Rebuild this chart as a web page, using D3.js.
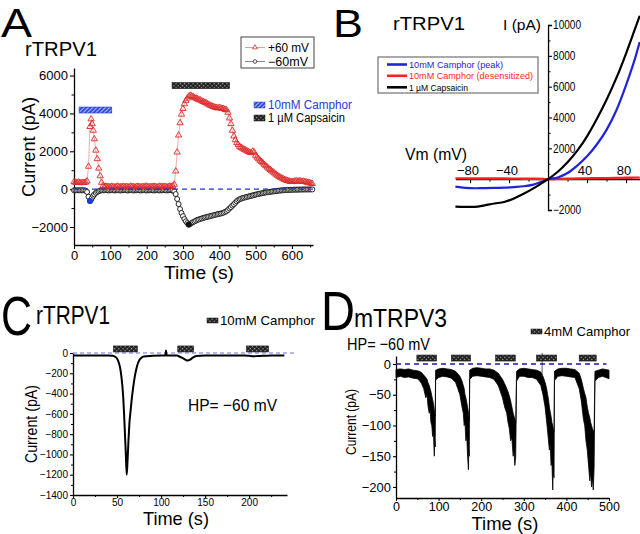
<!DOCTYPE html>
<html><head><meta charset="utf-8">
<script src="https://cdn.jsdelivr.net/npm/d3@7"></script>
<style>body{margin:0;background:#fff}svg{display:block;font-family:"Liberation Sans",Arial,Helvetica,sans-serif}</style>
</head><body><svg id="c" width="640" height="534"></svg>
<script>
// ---------------- DATA ----------------
// Panel A: time course (s), current at +60 mV and -60 mV (pA)
const timeA = [0,4,8,12,16,20,24,28,32,36,
 40,44,47,50,53,56,60,64,68,72,76,80,84,
 88,92,96,100,104,108,112,116,120,124,128,132,136,140,144,148,152,156,160,164,168,172,176,180,184,188,192,196,200,204,208,212,216,220,224,228,232,236,240,244,248,252,256,260,264,268,272,
 276,280,284,288,292,296,300,304,308,312,316,320,324,328,332,336,340,344,348,352,356,360,364,368,372,376,380,384,388,392,396,400,404,408,412,416,420,424,428,432,436,440,444,448,452,456,460,464,468,472,476,480,484,488,492,496,500,504,508,512,516,520,524,528,532,536,540,544,548,552,556,560,564,568,572,576,580,584,588,592,596,600,604,608,612,616,620,624,628,632,636,640,644,648,652,656];
const plusA = [380,360,340,370,340,330,350,340,360,420,
 1200,3300,3700,3450,3100,2650,2050,1600,1100,700,350,180,130,
 150,120,130,110,140,120,100,130,150,120,110,130,140,120,130,110,120,150,130,120,100,130,140,120,110,130,120,140,150,120,110,130,120,140,130,110,120,150,130,120,140,130,110,120,150,140,160,
 250,950,1950,2850,3500,3950,4250,4500,4680,4800,4900,4950,4920,4880,4820,4800,4760,4720,4700,4650,4620,4580,4550,4500,4450,4420,4380,4350,4320,4300,4280,4300,4280,4250,4250,4200,4180,4050,3750,3450,3100,2800,2600,2450,2350,2250,2200,2150,2100,2060,2020,1980,1940,1920,2000,1950,1780,1680,1600,1520,1450,1380,1300,1230,1160,1090,1030,960,900,840,780,720,670,620,580,540,500,470,440,420,400,390,400,420,430,410,430,420,400,410,390,370,350,330,310,290];
const minusA = [-60,-60,-60,-60,-60,-60,-60,-60,-80,-150,
 -400,-620,-560,-450,-350,-280,-200,-150,-110,-80,-60,-60,-60,
 -50,-60,-70,-60,-50,-60,-70,-60,-50,-60,-70,-60,-60,-50,-60,-70,-60,-50,-60,-70,-60,-60,-50,-60,-70,-60,-50,-60,-70,-60,-60,-50,-60,-70,-60,-50,-60,-70,-60,-60,-50,-60,-70,-60,-50,-60,-70,
 -110,-260,-520,-790,-1050,-1260,-1430,-1580,-1700,-1790,-1870,-1840,-1780,-1740,-1700,-1660,-1620,-1600,-1570,-1550,-1520,-1500,-1480,-1460,-1440,-1420,-1400,-1380,-1360,-1340,-1320,-1300,-1290,-1270,-1240,-1200,-1160,-1100,-1020,-950,-870,-800,-720,-640,-580,-530,-500,-470,-450,-430,-410,-390,-370,-350,-330,-310,-290,-270,-250,-235,-220,-205,-190,-175,-160,-150,-140,-130,-120,-110,-100,-90,-80,-72,-65,-58,-52,-46,-42,-38,-35,-32,-30,-28,-26,-24,-22,-20,-20,-18,-18,-16,-16,-15,-15,-14];
const camphorPeakA = [44, -620];
const capsaicinPeakA = [316, -1870];
const camphorBarA = [14, 104];
const capsaicinBarA = [270, 428];
const xTicksA = [0,100,200,300,400,500,600];
const yTicksA = [-2000,0,2000,4000,6000];

// Panel B: I-V relations
const vmB = [-95,-85,-75,-65,-55,-45,-35,-25,-15,-5,0,10,20,30,40,50,60,70,80,90,94];
const capsaicinB = [-1780,-1800,-1800,-1700,-1580,-1480,-1250,-950,-600,-200,0,480,1100,1850,2780,3900,5150,6550,8150,9900,10600];
const camphorPeakB = [-480,-560,-590,-580,-570,-550,-510,-460,-350,-130,0,110,400,880,1480,2250,3200,4450,6100,8000,8900];
const camphorDesB = [50,50,45,45,40,40,35,30,25,10,0,20,30,40,50,60,70,80,90,100,100];
const xTicksB = [-80,-40,40,80];
const yTicksB = [-2000,2000,4000,6000,8000,10000];

// Panel C: rTRPV1 trace at -60 mV
const timeC = [0,10,20,30,40,45,48,50,52,53.5,55,57,58,59,60,61,62,63,64,65.5,67,68.5,70,71.6,73,75.4,78,80,90,100,105,105.6,106.2,110,118,120,124,127,130,133,136,140,150,160,180,195,200,205,210,215,220,225,240];
const currentC = [-25,-25,-25,-25,-25,-28,-38,-55,-95,-145,-235,-430,-600,-800,-1000,-1200,-1050,-860,-700,-560,-430,-330,-240,-170,-120,-70,-45,-35,-28,-25,-25,25,-25,-25,-25,-32,-48,-62,-75,-66,-46,-30,-25,-25,-25,-25,-28,-32,-30,-28,-26,-25,-25];
const barsC = [[46,73],[119,137],[197,222]];
const xTicksC = [0,50,100,150,200];
const yTicksC = [0,-200,-400,-600,-800,-1000,-1200,-1400];

// Panel D: mTRPV3 trace envelope (upper / lower edge of the noisy current)
const timeD = [0,10,20,30,40,50,55,60,65,70,73,75,78,80,82,84,86,88,89,90,91,92,93,
 100,110,120,130,140,145,150,155,158,160,162,164,166,168,170,171,172,173,
 180,190,200,210,220,230,240,250,255,260,263,266,269,272,275,277,279,281,283,
 290,300,310,320,330,340,345,350,353,356,358,360,362,364,366,368,369,371,372,
 380,390,400,410,420,430,435,440,443,446,449,452,455,457,459,461,463,465,467,
 475,485,500];
const upperD = [-9,-8,-9,-8,-10,-11,-12,-14,-18,-22,-25,-30,-35,-40,-45,-52,-58,-65,-70,-75,-80,-85,-10,
 -8,-7,-8,-9,-12,-16,-20,-28,-35,-40,-50,-55,-62,-70,-78,-85,-92,-10,
 -7,-6,-7,-8,-8,-10,-15,-25,-32,-40,-45,-52,-60,-70,-80,-85,-90,-95,-12,
 -8,-7,-8,-9,-10,-13,-20,-30,-38,-50,-58,-70,-78,-85,-95,-100,-105,-110,-12,
 -8,-7,-7,-8,-9,-15,-25,-40,-48,-55,-70,-80,-88,-95,-100,-105,-108,-110,-12,
 -10,-8,-10];
const lowerD = [-22,-20,-22,-21,-23,-24,-27,-32,-40,-55,-50,-68,-80,-75,-95,-100,-118,-110,-135,-150,-125,-135,-26,
 -22,-20,-21,-23,-30,-40,-50,-70,-80,-100,-95,-125,-115,-150,-172,-140,-150,-25,
 -20,-19,-20,-21,-22,-25,-35,-55,-70,-80,-95,-105,-125,-120,-150,-140,-165,-150,-28,
 -20,-20,-22,-22,-25,-35,-50,-70,-90,-110,-125,-140,-130,-165,-160,-205,-175,-185,-27,
 -20,-19,-20,-21,-22,-40,-60,-90,-100,-125,-140,-165,-190,-175,-200,-185,-205,-170,-28,
 -22,-20,-24];
const artifactD = [343, 18, -20];
const barsD = [[49,95],[130,175],[234,280],[330,377],[430,470]];
const xTicksD = [0,100,200,300,400,500];
const yTicksD = [0,-50,-100,-150,-200];

// ---------------- DRAWING ----------------
const FONT = '"Liberation Sans",Arial,Helvetica,sans-serif';
const fmt = d3.format('d');
const svg = d3.select('#c');
const defs = svg.append('defs');
const pb = defs.append('pattern').attr('id','hatchBlue').attr('patternUnits','userSpaceOnUse')
  .attr('width',3).attr('height',3).attr('patternTransform','rotate(45)');
pb.append('rect').attr('width',3).attr('height',3).attr('fill','#3550d6');
pb.append('rect').attr('width',1).attr('height',3).attr('fill','#aab8ff');
const pk = defs.append('pattern').attr('id','checkBlack').attr('patternUnits','userSpaceOnUse')
  .attr('width',3).attr('height',3).attr('patternTransform','rotate(45)');
pk.append('rect').attr('width',3).attr('height',3).attr('fill','#1c1c1c');
pk.append('rect').attr('width',1.3).attr('height',1.3).attr('fill','#b0b0b0');

function txt(x, y, s, size, opt = {}) {
  const t = svg.append('text').attr('x', x).attr('y', y).text(s)
    .attr('font-size', size).attr('font-family', FONT).attr('fill', opt.fill || '#000');
  if (opt.anchor) t.attr('text-anchor', opt.anchor);
  if (opt.len) t.attr('textLength', opt.len).attr('lengthAdjust', 'spacingAndGlyphs');
  if (opt.rot) t.attr('transform', `rotate(${opt.rot},${x},${y})`);
  return t;
}
function styleAxis(g, fs) {
  g.attr('font-family', FONT);
  g.select('.domain').attr('stroke', '#000').attr('stroke-width', 1.3);
  g.selectAll('.tick line').attr('stroke', '#000').attr('stroke-width', 1.1);
  g.selectAll('.tick text').attr('font-size', fs).attr('fill', '#000');
  return g;
}
function minor(axisFn, scale, vals, size, tx, ty) {
  const g = svg.append('g').attr('transform', `translate(${tx},${ty})`)
    .call(axisFn(scale).tickValues(vals).tickSize(size).tickFormat(''));
  g.select('.domain').remove();
  g.selectAll('.tick line').attr('stroke', '#000').attr('stroke-width', 1);
}

// ===== Panel A =====
const xA = d3.scaleLinear([0, 658], [74, 313]);
const yA = d3.scaleLinear([-2950, 6400], [245, 68]);
styleAxis(svg.append('g').attr('transform', `translate(0,${yA(-2950)})`)
  .call(d3.axisBottom(xA).tickValues(xTicksA).tickFormat(fmt).tickSize(4).tickSizeOuter(0).tickPadding(2)), 13);
minor(d3.axisBottom, xA, xTicksA.map(v => v + 50), 2.5, 0, yA(-2950));
styleAxis(svg.append('g').attr('transform', `translate(${xA(0)},0)`)
  .call(d3.axisLeft(yA).tickValues(yTicksA).tickFormat(fmt).tickSize(4).tickSizeOuter(0).tickPadding(2)), 13);
minor(d3.axisLeft, yA, yTicksA.map(v => v + 1000).filter(v => v < 6400), 2.5, xA(0), 0);

const ptsA = timeA.map((t, i) => ({ t, p: plusA[i], m: minusA[i] }));
svg.append('path').datum(ptsA).attr('fill', 'none').attr('stroke', '#999').attr('stroke-width', 0.8)
  .attr('d', d3.line().x(d => xA(d.t)).y(d => yA(d.m)));
svg.append('g').selectAll('circle').data(ptsA).join('circle')
  .attr('cx', d => xA(d.t)).attr('cy', d => yA(d.m)).attr('r', 2.5)
  .attr('fill', '#fff').attr('stroke', '#111').attr('stroke-width', 0.9);
svg.append('path').datum(ptsA).attr('fill', 'none').attr('stroke', '#e79a9a').attr('stroke-width', 0.8)
  .attr('d', d3.line().x(d => xA(d.t)).y(d => yA(d.p)));
const tri = d3.symbol(d3.symbolTriangle).size(17)();
svg.append('g').selectAll('path').data(ptsA).join('path')
  .attr('d', tri).attr('transform', d => `translate(${xA(d.t)},${yA(d.p)})`)
  .attr('fill', 'none').attr('stroke', '#dd2a2a').attr('stroke-width', 0.9);
svg.append('circle').attr('cx', xA(camphorPeakA[0])).attr('cy', yA(camphorPeakA[1])).attr('r', 3).attr('fill', '#1d3be0');
svg.append('circle').attr('cx', xA(capsaicinPeakA[0])).attr('cy', yA(capsaicinPeakA[1])).attr('r', 3).attr('fill', '#111');
svg.append('line').attr('x1', xA(0)).attr('x2', xA(658)).attr('y1', yA(0)).attr('y2', yA(0))
  .attr('stroke', '#2233cc').attr('stroke-width', 1.3).attr('stroke-dasharray', '5,4');
svg.append('rect').attr('x', xA(camphorBarA[0])).attr('width', xA(camphorBarA[1]) - xA(camphorBarA[0]))
  .attr('y', yA(4180) - 3).attr('height', 6).attr('fill', 'url(#hatchBlue)').attr('stroke', '#2a3fc8').attr('stroke-width', 0.6);
svg.append('rect').attr('x', xA(capsaicinBarA[0])).attr('width', xA(capsaicinBarA[1]) - xA(capsaicinBarA[0]))
  .attr('y', yA(5470) - 3).attr('height', 6).attr('fill', 'url(#checkBlack)').attr('stroke', '#111').attr('stroke-width', 0.6);

txt(1, 37, 'A', 40, { len: 31 });
txt(25, 56, 'rTRPV1', 20, { len: 72 });
txt(35, 147, 'Current (pA)', 19, { anchor: 'middle', rot: -90, len: 100 });
txt(199, 279, 'Time (s)', 18, { anchor: 'middle', len: 70 });
// legend box
svg.append('rect').attr('x', 241).attr('y', 37).attr('width', 73).attr('height', 31)
  .attr('fill', '#fff').attr('stroke', '#444').attr('stroke-width', 1);
svg.append('line').attr('x1', 245).attr('x2', 265).attr('y1', 47.5).attr('y2', 47.5).attr('stroke', '#e79a9a');
svg.append('path').attr('d', d3.symbol(d3.symbolTriangle).size(10)()).attr('transform', 'translate(255,47.5)')
  .attr('fill', '#fff').attr('stroke', '#dd2a2a').attr('stroke-width', 0.8);
svg.append('line').attr('x1', 245).attr('x2', 265).attr('y1', 61.5).attr('y2', 61.5).attr('stroke', '#888');
svg.append('circle').attr('cx', 255).attr('cy', 61.5).attr('r', 1.8).attr('fill', '#fff').attr('stroke', '#222').attr('stroke-width', 0.8);
txt(268, 52, '+60 mV', 12, { len: 41 });
txt(268, 66, '\u221260mV', 12, { len: 40 });
svg.append('rect').attr('x', 254).attr('y', 102).attr('width', 11).attr('height', 6).attr('fill', 'url(#hatchBlue)').attr('stroke', '#2a3fc8').attr('stroke-width', 0.5);
txt(268, 109, '10mM Camphor', 12, { fill: '#2a3ccc', len: 84 });
svg.append('rect').attr('x', 254).attr('y', 115).attr('width', 11).attr('height', 6).attr('fill', 'url(#checkBlack)').attr('stroke', '#111').attr('stroke-width', 0.5);
txt(268, 122, '1 \u00b5M Capsaicin', 12, { len: 77 });

// ===== Panel B =====
const xB = d3.scaleLinear([-95, 94], [455.4, 639.7]);
const yB = d3.scaleLinear([-2000, 10000], [210, 25]);
const gyB = svg.append('g').attr('transform', `translate(${xB(0)},0)`)
  .call(d3.axisRight(yB).tickValues(yTicksB).tickFormat(fmt).tickSize(4).tickSizeOuter(4).tickPadding(1));
styleAxis(gyB, 12);
gyB.selectAll('.tick text').attr('textLength', function () { return this.textContent.length * 5.6; }).attr('lengthAdjust', 'spacingAndGlyphs');
minor(d3.axisRight, yB, [-1000,1000,3000,5000,7000,9000], 2.5, xB(0), 0);
const gxB = svg.append('g').attr('transform', `translate(0,${yB(0)})`)
  .call(d3.axisBottom(xB).tickValues(xTicksB).tickSize(4).tickSizeOuter(0).tickFormat(''));
styleAxis(gxB, 13);
minor(d3.axisBottom, xB, [-60,-20,20,60], 2.5, 0, yB(0));
xTicksB.forEach(v => txt(xB(v) - 2, 175, fmt(v), 13, { anchor: 'middle' }));
const lineB = d3.line().x((d, i) => xB(vmB[i])).y(d => yB(d)).curve(d3.curveMonotoneX);
svg.append('path').datum(camphorDesB).attr('fill', 'none').attr('stroke', '#ff1f1f').attr('stroke-width', 2.4).attr('d', lineB);
svg.append('path').datum(camphorPeakB).attr('fill', 'none').attr('stroke', '#1f24d8').attr('stroke-width', 2.2).attr('d', lineB);
svg.append('path').datum(capsaicinB).attr('fill', 'none').attr('stroke', '#000').attr('stroke-width', 2.2).attr('d', lineB);

txt(333, 37, 'B', 38, { len: 30 });
txt(393, 30, 'rTRPV1', 19, { len: 72 });
txt(405, 160, 'Vm (mV)', 16, { len: 62 });
txt(503, 30, 'I (pA)', 15, { len: 38 });
svg.append('rect').attr('x', 378).attr('y', 57).attr('width', 160).attr('height', 36)
  .attr('fill', '#fff').attr('stroke', '#555').attr('stroke-width', 1);
[['#1f24d8', '10mM Camphor (peak)', 64.5, 94], ['#ff1f1f', '10mM Camphor (desensitized)', 75.8, 124], ['#000', '1 \u00b5M Capsaicin', 87.3, 59]]
  .forEach(([c, s, y, L]) => {
    svg.append('line').attr('x1', 387).attr('x2', 407).attr('y1', y).attr('y2', y).attr('stroke', c).attr('stroke-width', 2.6);
    txt(409, y + 3.3, s, 9.5, { fill: c, len: L });
  });

// ===== Panel C =====
const xC = d3.scaleLinear([0, 243], [73, 287]);
const yC = d3.scaleLinear([-1400, 0], [495, 353]);
styleAxis(svg.append('g').attr('transform', `translate(0,${yC(-1400)})`)
  .call(d3.axisBottom(xC).tickValues(xTicksC).tickFormat(fmt).tickSize(3).tickSizeOuter(0).tickPadding(1)), 10);
minor(d3.axisBottom, xC, [25,75,125,175,225], 2, 0, yC(-1400));
styleAxis(svg.append('g').attr('transform', `translate(${xC(0)},0)`)
  .call(d3.axisLeft(yC).tickValues(yTicksC).tickFormat(fmt).tickSize(3).tickSizeOuter(0).tickPadding(2)), 10);
minor(d3.axisLeft, yC, [-100,-300,-500,-700,-900,-1100,-1300], 2, xC(0), 0);
svg.append('line').attr('x1', xC(0)).attr('x2', xC(252)).attr('y1', yC(0)).attr('y2', yC(0))
  .attr('stroke', '#6f6fd8').attr('stroke-width', 1.2).attr('stroke-dasharray', '4,3');
svg.append('path').datum(currentC).attr('fill', 'none').attr('stroke', '#000').attr('stroke-width', 2)
  .attr('stroke-linejoin', 'round')
  .attr('d', d3.line().x((d, i) => xC(timeC[i])).y(d => yC(d)).curve(d3.curveMonotoneX));
svg.append('g').selectAll('rect').data(barsC).join('rect')
  .attr('x', d => xC(d[0])).attr('width', d => xC(d[1]) - xC(d[0])).attr('y', yC(40) - 3).attr('height', 6)
  .attr('fill', 'url(#checkBlack)').attr('stroke', '#111').attr('stroke-width', 0.6);
txt(1, 335, 'C', 56, { len: 31 });
txt(36, 324, 'rTRPV1', 25, { len: 74 });
svg.append('rect').attr('x', 207).attr('y', 318).attr('width', 11).attr('height', 5).attr('fill', 'url(#checkBlack)').attr('stroke', '#111').attr('stroke-width', 0.5);
txt(220, 325, '10mM Camphor', 13, { len: 95 });
txt(188, 411, 'HP= \u221260 mV', 17, { len: 89 });
txt(37, 424, 'Current (pA)', 16, { anchor: 'middle', rot: -90, len: 78 });
txt(176, 525, 'Time (s)', 19, { anchor: 'middle', len: 66 });

// ===== Panel D =====
const xD = d3.scaleLinear([0, 500], [396, 609]);
const yD = d3.scaleLinear([-218, 13], [498, 356]);
styleAxis(svg.append('g').attr('transform', `translate(0,${yD(-218)})`)
  .call(d3.axisBottom(xD).tickValues(xTicksD).tickFormat(fmt).tickSize(3).tickSizeOuter(0).tickPadding(1)), 12.5);
minor(d3.axisBottom, xD, [50,150,250,350,450], 2, 0, yD(-218));
styleAxis(svg.append('g').attr('transform', `translate(${xD(0)},0)`)
  .call(d3.axisLeft(yD).tickValues(yTicksD).tickFormat(fmt).tickSize(3).tickSizeOuter(0).tickPadding(2)), 13);
minor(d3.axisLeft, yD, [-25,-75,-125,-175], 2, xD(0), 0);
svg.append('path').datum(timeD).attr('fill', '#000').attr('stroke', '#000').attr('stroke-width', 0.8)
  .attr('stroke-linejoin', 'round')
  .attr('d', d3.area().x(d => xD(d)).y0((d, i) => yD(lowerD[i])).y1((d, i) => yD(upperD[i])));
svg.append('line').attr('x1', xD(artifactD[0])).attr('x2', xD(artifactD[0]))
  .attr('y1', yD(artifactD[1])).attr('y2', yD(artifactD[2])).attr('stroke', '#333').attr('stroke-width', 0.8);
svg.append('line').attr('x1', xD(0)).attr('x2', xD(494)).attr('y1', yD(0)).attr('y2', yD(0))
  .attr('stroke', '#1a1aaa').attr('stroke-width', 1.4).attr('stroke-dasharray', '5,4');
svg.append('g').selectAll('rect').data(barsD).join('rect')
  .attr('x', d => xD(d[0])).attr('width', d => xD(d[1]) - xD(d[0])).attr('y', yD(9.7) - 3).attr('height', 6)
  .attr('fill', 'url(#checkBlack)').attr('stroke', '#111').attr('stroke-width', 0.6);
txt(321, 330, 'D', 56, { len: 34 });
txt(354, 327, 'mTRPV3', 25, { len: 93 });
txt(347, 350, 'HP= \u221260 mV', 17, { len: 83 });
svg.append('rect').attr('x', 531).attr('y', 329).attr('width', 11).attr('height', 5).attr('fill', 'url(#checkBlack)').attr('stroke', '#111').attr('stroke-width', 0.5);
txt(544, 336, '4mM Camphor', 13, { len: 86 });
txt(356, 422, 'Current (pA)', 14, { anchor: 'middle', rot: -90, len: 66 });
txt(505, 530, 'Time (s)', 18, { anchor: 'middle', len: 67 });
</script></body></html>
